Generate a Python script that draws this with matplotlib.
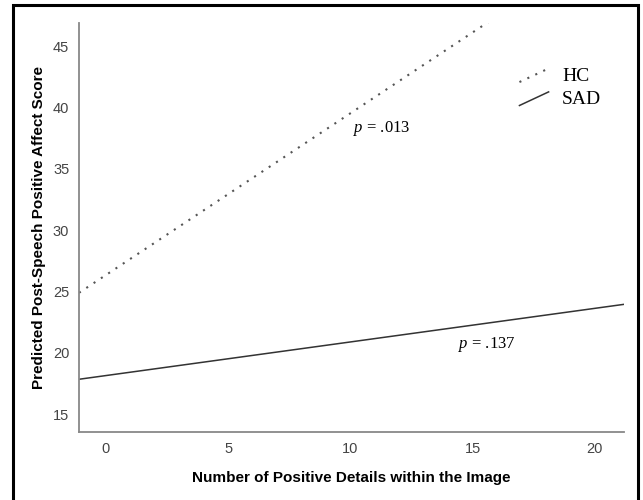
import matplotlib
matplotlib.use("Agg")
import matplotlib.pyplot as plt
from matplotlib.lines import Line2D
from matplotlib.legend_handler import HandlerLine2D
from matplotlib.patches import Rectangle

plt.rcParams["mathtext.fontset"] = "custom"
plt.rcParams["mathtext.it"] = "Liberation Serif:italic"
plt.rcParams["mathtext.rm"] = "Liberation Serif"

# regression lines, drawn across the visible x range
x_ends = [-1.1, 21.2]
hc_pred = [24.9, 54.3]
sad_pred = [17.85, 23.96]
x_ticks = [0, 5, 10, 15, 20]
y_ticks = [15, 20, 25, 30, 35, 40, 45]


class SlopedLine(HandlerLine2D):
    # legend handle drawn as a short rising line, like the original
    def create_artists(self, legend, orig_handle, xdescent, ydescent,
                       width, height, fontsize, trans):
        line = Line2D([-xdescent, -xdescent + width],
                      [-ydescent - 0.1 * height, -ydescent + 0.9 * height])
        self.update_prop(line, orig_handle, legend)
        line.set_transform(trans)
        return [line]


fig = plt.figure(figsize=(6.43, 5), dpi=100)
ax = fig.add_axes([0.1229, 0.136, 0.8476, 0.818])

ax.plot(x_ends, hc_pred, color="#555555", lw=1.5, linestyle=(0, (1, 3.2)),
        label="HC")
ax.plot(x_ends, sad_pred, color="#333333", lw=1.1, label="SAD")

ax.set_xlim(-1.1, 21.2)
ax.set_ylim(13.55, 46.9)
ax.set_xticks(x_ticks)
ax.set_yticks(y_ticks)
ax.tick_params(length=0, labelsize=10.5, labelcolor="#444444", pad=7)
for side in ["top", "right"]:
    ax.spines[side].set_visible(False)
for side in ["left", "bottom"]:
    ax.spines[side].set_color("#888888")
    ax.spines[side].set_linewidth(1.3)

ax.set_xlabel("Number of Positive Details within the Image", fontsize=11,
              fontweight="bold", family="Liberation Sans", labelpad=11)
ax.set_ylabel("Predicted Post-Speech Positive Affect Score", fontsize=11,
              fontweight="bold", family="Liberation Sans", labelpad=5)
for lab in ax.get_xticklabels() + ax.get_yticklabels():
    lab.set_family("Liberation Sans")

ax.text(11.3, 38.3, "$p$ = .013", fontsize=12, family="Liberation Serif",
        ha="center", va="center")
ax.text(15.6, 20.7, "$p$ = .137", fontsize=12, family="Liberation Serif",
        ha="center", va="center")

ax.legend(handler_map={Line2D: SlopedLine()}, frameon=False,
          loc="upper left", bbox_to_anchor=(0.776, 0.935), handlelength=1.5,
          handletextpad=0.7, labelspacing=0.3,
          prop={"family": "Liberation Serif", "size": 14})

# outer frame round the whole figure
fig.patches.append(Rectangle((13 / 643, -0.05), 625 / 643, 1.04,
                             transform=fig.transFigure, fill=False,
                             edgecolor="black", lw=2.2))

fig.savefig("out.png", dpi=100)
